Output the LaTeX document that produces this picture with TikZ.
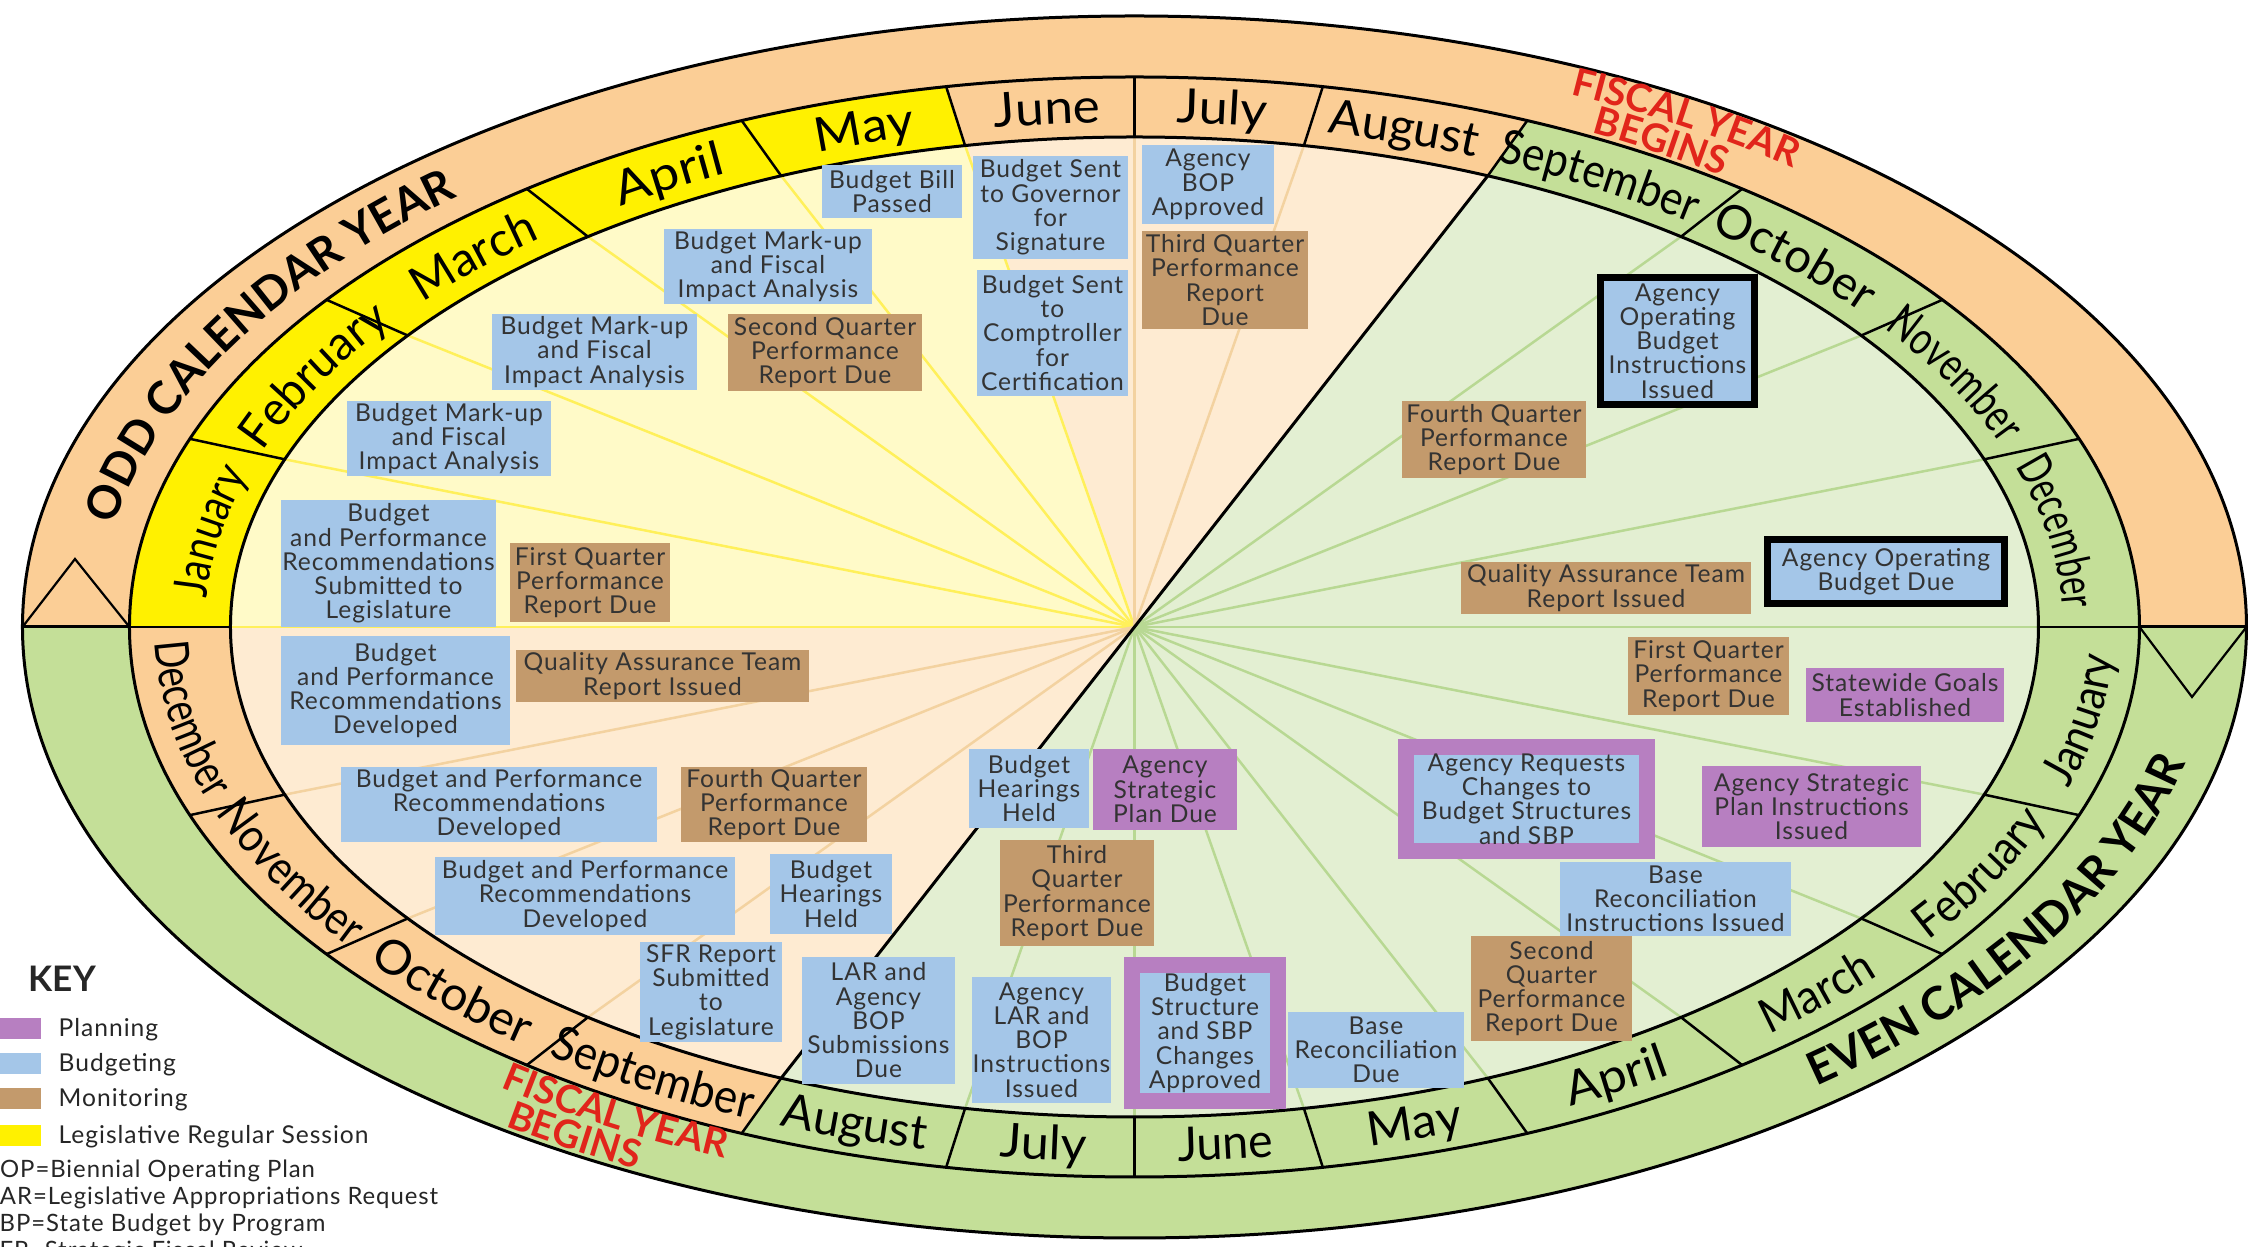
\documentclass[tikz,border=0pt]{standalone}
\usepackage{fontspec}
\setmainfont{Lato}
\newfontfamily\boxfamily[LetterSpace=4]{Lato}
\usetikzlibrary{decorations.text}

\definecolor{peachband}{HTML}{FBCE96}
\definecolor{greenband}{HTML}{C4DF98}
\definecolor{sessionc}{HTML}{FFF100}
\definecolor{inyellow}{HTML}{FFFAC8}
\definecolor{inpeach}{HTML}{FEEBD2}
\definecolor{ingreen}{HTML}{E3EFD2}
\definecolor{spky}{HTML}{FFF05A}
\definecolor{spkp}{HTML}{F3D2A0}
\definecolor{spkg}{HTML}{B8D893}
\definecolor{planc}{HTML}{B77FC1}
\definecolor{budgc}{HTML}{A4C6E8}
\definecolor{monc}{HTML}{C39A6C}
\definecolor{fiscalred}{HTML}{E1251B}

\newcommand\boxfont{\boxfamily\fontsize{7}{6.9}\selectfont}
\newcommand\monthfont[1]{\fontsize{13.5}{15}\selectfont\addfontfeature{FakeStretch=#1}}
\newcommand\yearfont{\fontsize{13}{15}\selectfont\bfseries}
\newcommand\fiscalfont{\fontsize{11}{12}\selectfont\bfseries}
\newcommand\keyfont{\boxfamily\fontsize{7}{8}\selectfont}
\newcommand\abbrfont{\boxfamily\fontsize{6.8}{7.5}\selectfont}

\begin{document}
\begin{tikzpicture}[x=0.1mm, y=0.1mm,
	outline/.style={line width=0.3mm},
	ev/.style={inner sep=0pt, align=center, font=\boxfont, text=black!80},
	budget box/.style={ev, fill=budgc},
	monitor box/.style={ev, fill=monc},
	plan box/.style={ev, fill=planc},
	ops box/.style={budget box, draw=black, line width=0.7mm},
	sbp box/.style={budget box, draw=planc, line width=1.6mm},
	sz/.style 2 args={minimum width=#1mm, minimum height=#2mm},
	abbr/.style={anchor=base west, inner sep=0pt, font=\abbrfont, text=black!85}
]

	\def \ai {904 }  \def \bi {490 }
	\def \am {1005 } \def \bm {550 }
	\def \ao {1112 } \def \bo {611 }

	\useasboundingbox (-1134.5,-620) rectangle (1119.5,627);
	\clip (-1134.5,-620) rectangle (1119.5,627);

	% year band
	\fill[peachband] (180:\ao and \bo) arc[start angle=180, end angle=0, x radius=\ao, y radius=\bo]
		-- (0:\am and \bm) arc[start angle=0, end angle=180, x radius=\am, y radius=\bm] -- cycle;
	\fill[greenband] (0:\ao and \bo) arc[start angle=0, end angle=-180, x radius=\ao, y radius=\bo]
		-- (-180:\am and \bm) arc[start angle=-180, end angle=0, x radius=\am, y radius=\bm] -- cycle;

	% month band and inside
	\foreach \ta/\tb/\cm/\ci in {180/100.8/sessionc/inyellow, 100.8/67/peachband/inpeach,
		67/-113/greenband/ingreen, -113/-180/peachband/inpeach} {
		\fill[\ci] (0,0) -- (\ta:\ai and \bi) arc[start angle=\ta, end angle=\tb, x radius=\ai, y radius=\bi] -- cycle;
		\fill[\cm] (\ta:\ai and \bi) arc[start angle=\ta, end angle=\tb, x radius=\ai, y radius=\bi]
			-- (\tb:\am and \bm) arc[start angle=\tb, end angle=\ta, x radius=\am, y radius=\bm] -- cycle;
	}

	\foreach \t/\c in {180/spky, 160/spky, 143.5/spky, 127.2/spky, 113/spky, 100.8/spky,
		90/spkp, 79.2/spkp, 52.8/spkg, 36.5/spkg, 20/spkg, 0/spkg, -20/spkg, -36.5/spkg,
		-52.8/spkg, -67/spkg, -79.2/spkg, -90/spkg, -100.8/spkg, -127.2/spkp, -143.5/spkp, -160/spkp}
		\draw[\c, line width=0.25mm] (0,0) -- (\t:\ai and \bi);
	\draw[outline] (67:\ai and \bi) -- (-113:\ai and \bi);

	\draw[outline] (0,0) ellipse[x radius=\ao, y radius=\bo];
	\draw[outline] (0,0) ellipse[x radius=\am, y radius=\bm];
	\draw[outline] (0,0) ellipse[x radius=\ai, y radius=\bi];
	\foreach \t in {180,160,143.5,127.2,113,100.8,90,79.2,67,52.8,36.5,20,0,
		-20,-36.5,-52.8,-67,-79.2,-90,-100.8,-113,-127.2,-143.5,-160}
		\draw[line width=0.25mm] (\t:\ai and \bi) -- (\t:\am and \bm);
	\draw[outline] (180:\am and \bm) -- (180:\ao and \bo);
	\draw[outline] (0:\am and \bm) -- (0:\ao and \bo);
	\draw[line width=0.22mm] (180:\ao and \bo) -- (-1059.5,68) -- (180:\am and \bm);
	\draw[line width=0.22mm] (0:\am and \bm) -- (1057.5,-70) -- (0:\ao and \bo);

	% month names
	\foreach \ta/\tb/\name/\st in {180/160/January/.81, 160/143.5/February/.97, 143.5/127.2/March/1.0,
		127.2/113/April/1.12, 113/100.8/May/1.08, 100.8/90/June/1.08, 90/79.2/July/1.1,
		79.2/67/August/1.02, 67/52.8/September/.9, 52.8/36.5/October/1.0,
		36.5/20/November/.75, 20/0/December/.7} {
		\path[decorate, decoration={text along path, text align=center,
			text/.expanded={|\noexpand\monthfont{\st}|\name}}]
			(\ta+3:929 and 505) arc[start angle=\ta+3, end angle=\tb-3, x radius=929, y radius=505];
	}
	\foreach \ta/\tb/\name/\st in {0/-20/January/.87, -20/-36.5/February/.9, -36.5/-52.8/March/.92,
		-52.8/-67/April/1.06, -67/-79.2/May/1.04, -79.2/-90/June/.98, -90/-100.8/July/1.06,
		-100.8/-113/August/1.0, -113/-127.2/September/.93, -127.2/-143.5/October/1.02,
		-143.5/-160/November/.86, -160/-180/December/.78} {
		\path[decorate, decoration={text along path, text align=center,
			text/.expanded={|\noexpand\monthfont{\st}|\name}}]
			(\tb-3:980 and 535) arc[start angle=\tb-3, end angle=\ta+3, x radius=980, y radius=535];
	}

	% year band texts
	\path[decorate, decoration={text along path, text align=center, text={|\yearfont|ODD CALENDAR YEAR}}]
		(172.7:1037 and 568) arc[start angle=172.7, end angle=128.7, x radius=1037, y radius=568];
	\path[decorate, decoration={text along path, text align=center, text={|\yearfont|EVEN CALENDAR YEAR}}]
		(-53.4:1080 and 593) arc[start angle=-53.4, end angle=-9.4, x radius=1080, y radius=593];
	\path[decorate, decoration={text along path, text align=center, text color=fiscalred,
		text={|\fiscalfont|FISCAL YEAR}}]
		(70.5:1065 and 584) arc[start angle=70.5, end angle=46.5, x radius=1065, y radius=584];
	\path[decorate, decoration={text along path, text align=center, text color=fiscalred,
		text={|\fiscalfont|BEGINS}}]
		(68.5:1011 and 554) arc[start angle=68.5, end angle=48.5, x radius=1011, y radius=554];
	\path[decorate, decoration={text along path, text align=center, text color=fiscalred,
		text={|\fiscalfont|FISCAL YEAR}}]
		(-132.3:1052 and 577) arc[start angle=-132.3, end angle=-108.3, x radius=1052, y radius=577];
	\path[decorate, decoration={text along path, text align=center, text color=fiscalred,
		text={|\fiscalfont|BEGINS}}]
		(-131:1106 and 607) arc[start angle=-131, end angle=-111, x radius=1106, y radius=607];

	\begin{scope}[shift={(-1134.5,627)}, yscale=-1]
		% odd year
		\node[budget box, sz={14}{5.3}] (billpassed) at (892,191.5) {Budget Bill\\Passed};
		\node[budget box, sz={15.5}{10.3}] (sentgov) at (1050.5,207.5) {Budget Sent\\to Governor\\for\\Signature};
		\node[budget box, sz={15.1}{12.6}] (sentcompt) at (1052.5,333) {Budget Sent\\to\\Comptroller\\for\\Certification};
		\node[budget box, sz={13.2}{7.9}] (bopok) at (1208,184.5) {Agency\\BOP\\Approved};
		\node[monitor box, sz={16.6}{9.8}] (thirdtop) at (1225,280) {Third Quarter\\Performance\\Report\\Due};
		\node[budget box, sz={20.8}{7.5}] (markupa) at (768,266.5) {Budget Mark-up\\and Fiscal\\Impact Analysis};
		\node[budget box, sz={20.5}{7.6}] (markupb) at (594.5,352) {Budget Mark-up\\and Fiscal\\Impact Analysis};
		\node[monitor box, sz={19.4}{7.7}] (secondtop) at (825,352.5) {Second Quarter\\Performance\\Report Due};
		\node[budget box, sz={20.4}{7.5}] (markupc) at (449,438.5) {Budget Mark-up\\and Fiscal\\Impact Analysis};
		\node[budget box, sz={21.5}{12.7}] (recsub) at (388.5,563.5) {Budget\\and Performance\\Recommendations\\Submitted to\\Legislature};
		\node[monitor box, sz={16}{7.9}] (firsttop) at (590,582.5) {First Quarter\\Performance\\Report Due};
		\node[ops box, sz={15.4}{12.7}] (opinstr) at (1677.5,341) {Agency\\Operating\\Budget\\Instructions\\Issued};
		\node[monitor box, sz={18.4}{7.7}] (fourthtop) at (1494,439.5) {Fourth Quarter\\Performance\\Report Due};
		\node[monitor box, sz={29}{5.2}] (qatop) at (1606,588) {Quality Assurance Team\\Report Issued};
		\node[ops box, sz={23.7}{6.4}] (opdue) at (1886,571.5) {Agency Operating\\Budget Due};
		\node[budget box, sz={22.9}{10.9}] (recdeva) at (395.5,690.5) {Budget\\and Performance\\Recommendations\\Developed};
		\node[monitor box, sz={29.3}{5.2}] (qabot) at (662.5,676) {Quality Assurance Team\\Report Issued};
		\node[budget box, sz={31.6}{7.5}] (recdevb) at (499,804.5) {Budget and Performance\\Recommendations\\Developed};
		\node[monitor box, sz={18.6}{7.5}] (fourthbot) at (774,804.5) {Fourth Quarter\\Performance\\Report Due};
		\node[budget box, sz={30}{7.8}] (recdevc) at (585,896) {Budget and Performance\\Recommendations\\Developed};
		\node[budget box, sz={12.2}{8}] (hearinga) at (831,894) {Budget\\Hearings\\Held};
		\node[budget box, sz={14.2}{10}] (sfr) at (711,992) {SFR Report\\Submitted\\to\\Legislature};
		\node[budget box, sz={15.3}{12.7}] (larsub) at (878.5,1020.5) {LAR and\\Agency\\BOP\\Submissions\\Due};
		% even year
		\node[budget box, sz={13.9}{12.6}] (larinstr) at (1041.5,1040) {Agency\\LAR and\\BOP\\Instructions\\Issued};
		\node[budget box, sz={12}{7.9}] (hearingb) at (1029,788.5) {Budget\\Hearings\\Held};
		\node[plan box, sz={14.4}{8.1}] (spdue) at (1165,789.5) {Agency\\Strategic\\Plan Due};
		\node[monitor box, sz={15.4}{10.6}] (thirdbot) at (1077,893) {Third\\Quarter\\Performance\\Report Due};
		\node[sbp box, sz={14.6}{13.6}] (sbpok) at (1205,1033) {Budget\\Structure\\and SBP\\Changes\\Approved};
		\node[budget box, sz={17.6}{7.6}] (basedue) at (1376,1050) {Base\\Reconciliation\\Due};
		\node[monitor box, sz={16.1}{10.5}] (secondbot) at (1551.5,988.5) {Second\\Quarter\\Performance\\Report Due};
		\node[budget box, sz={23.1}{7.4}] (baseinstr) at (1675.5,899) {Base\\Reconciliation\\Instructions Issued};
		\node[sbp box, sz={24.1}{10.4}] (sbpreq) at (1526.5,799) {Agency Requests\\Changes to\\Budget Structures\\and SBP};
		\node[plan box, sz={21.9}{8.1}] (spinstr) at (1811.5,806.5) {Agency Strategic\\Plan Instructions\\Issued};
		\node[monitor box, sz={16.1}{7.8}] (firstbot) at (1708.5,676) {First Quarter\\Performance\\Report Due};
		\node[plan box, sz={19.8}{5.4}] (goals) at (1905,695) {Statewide Goals\\Established};

		% key
		\node[anchor=base west, inner sep=0pt, font=\bfseries\fontsize{10}{11}\selectfont, text=black!85] (key) at (28,992) {KEY};
		\foreach \y/\c/\lbl [count=\i] in {1018/planc/Planning, 1053/budgc/Budgeting,
			1088/monc/Monitoring, 1125/sessionc/Legislative Regular Session} {
			\fill[\c] (-10,\y) rectangle (41,\y+21);
			\node[anchor=base west, inner sep=0pt, font=\keyfont, text=black!85] (key\i) at (58,\y+18.5) {\lbl};
		}
		\node[abbr] (bopdef) at (-17,1178) {BOP=Biennial Operating Plan};
		\node[abbr] (lardef) at (-14,1205) {LAR=Legislative Appropriations Request};
		\node[abbr] (sbpdef) at (-15,1232) {SBP=State Budget by Program};
		\node[abbr] (sfrdef) at (-15,1259) {SFR=Strategic Fiscal Review};
	\end{scope}
\end{tikzpicture}
\end{document}
